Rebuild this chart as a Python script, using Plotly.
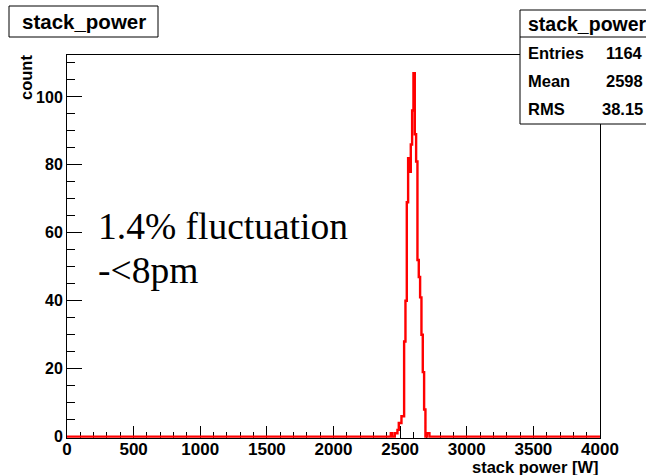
import numpy as np
import plotly.graph_objects as go

# ---- data ----
hist_title = "stack_power"
x_title = "stack power [W]"
y_title = "count"
x_min, x_max, bin_width = 0, 4000, 10
bin_low = [2430, 2460, 2470, 2480, 2490, 2500, 2510, 2520, 2530, 2540, 2550, 2560,
           2570, 2580, 2590, 2600, 2610, 2620, 2630, 2640, 2650, 2660, 2670, 2680,
           2700, 2710]
bin_count = [1, 1, 1, 2, 4, 4, 6, 6, 28, 40, 69, 82,
             78, 86, 96, 107, 89, 81, 52, 47, 41, 30, 19, 8,
             1, 1]
stat_labels = ["Entries", "Mean", "RMS"]
stat_values = ["1164", "2598", "38.15"]
note_lines = ["1.4% fluctuation", "-<8pm"]

# ---- full histogram ----
edges = np.arange(x_min, x_max + bin_width, bin_width)
counts = np.zeros(len(edges) - 1)
for lo, c in zip(bin_low, bin_count):
    counts[int((lo - x_min) // bin_width)] = c
xs = edges
ys = np.append(counts, counts[-1])
y_max = counts.max() * 1.05

# ---- layout geometry (pixels) ----
W, H = 646, 475
L, R, T, B = 67, 600, 55, 438


def xp(px):
    return (px - L) / (R - L)


def yp(py):
    return (B - py) / (B - T)


SANS = "Liberation Sans, Arial, Helvetica, sans-serif"
SERIF = "Liberation Serif, Times New Roman, serif"

fig = go.Figure()
fig.add_trace(go.Scatter(x=xs, y=ys, mode="lines", line=dict(shape="hv", color="#ff0000", width=2.4),
                         hoverinfo="skip", showlegend=False))

fig.update_xaxes(range=[x_min, x_max], dtick=500, tick0=0, ticks="inside", ticklen=12,
                 tickcolor="black", tickwidth=1, showgrid=False, zeroline=False,
                 showline=True, linecolor="black", linewidth=1, mirror=True,
                 tickfont=dict(family=SANS, size=17, color="black", weight="bold"),
                 ticklabelstandoff=-4,
                 layer="below traces",
                 minor=dict(dtick=100, ticks="inside", ticklen=6, tickcolor="black", tickwidth=1, showgrid=False))
fig.update_yaxes(range=[-0.4, y_max], dtick=20, tick0=0, ticks="inside", ticklen=15,
                 tickcolor="black", tickwidth=1, showgrid=False, zeroline=False,
                 showline=True, linecolor="black", linewidth=1, mirror=True,
                 tickfont=dict(family=SANS, size=16, color="black", weight="bold"),
                 layer="below traces",
                 minor=dict(dtick=5, ticks="inside", ticklen=8, tickcolor="black", tickwidth=1, showgrid=False))

shapes = []
annotations = []

# title box (top left)
shapes.append(dict(type="rect", xref="paper", yref="paper", x0=xp(9), x1=xp(158), y0=yp(37), y1=yp(6),
                   line=dict(color="black", width=1), fillcolor="white"))
annotations.append(dict(text=hist_title, xref="paper", yref="paper", x=xp(83.5), y=yp(21.5),
                        xanchor="center", yanchor="middle", showarrow=False,
                        font=dict(family=SANS, size=20.5, color="black", weight="bold")))

# stats box (top right)
shapes.append(dict(type="rect", xref="paper", yref="paper", x0=xp(520), x1=xp(660), y0=yp(124), y1=yp(10),
                   line=dict(color="black", width=1), fillcolor="white", layer="above"))
shapes.append(dict(type="line", xref="paper", yref="paper", x0=xp(520), x1=xp(660), y0=yp(37), y1=yp(37),
                   line=dict(color="black", width=1)))
annotations.append(dict(text=hist_title, xref="paper", yref="paper", x=xp(526), y=yp(23.5),
                        xanchor="left", yanchor="middle", showarrow=False,
                        font=dict(family=SANS, size=19.5, color="black", weight="bold")))
row_y = [53, 81, 109]
for lab, val, ry in zip(stat_labels, stat_values, row_y):
    annotations.append(dict(text=lab, xref="paper", yref="paper", x=xp(526), y=yp(ry),
                            xanchor="left", yanchor="middle", showarrow=False,
                            font=dict(family=SANS, size=16.5, color="black", weight="bold")))
    annotations.append(dict(text=val, xref="paper", yref="paper", x=xp(645), y=yp(ry),
                            xanchor="right", yanchor="middle", showarrow=False,
                            font=dict(family=SANS, size=16.5, color="black", weight="bold")))

# axis titles
annotations.append(dict(text=x_title, xref="paper", yref="paper", x=xp(601), y=yp(467),
                        xanchor="right", yanchor="middle", showarrow=False,
                        font=dict(family=SANS, size=16.5, color="black", weight="bold")))
annotations.append(dict(text=y_title, xref="paper", yref="paper", x=xp(26), y=yp(78),
                        xanchor="center", yanchor="middle", showarrow=False, textangle=-90,
                        font=dict(family=SANS, size=16.5, color="black", weight="bold")))

# free text
annotations.append(dict(text=note_lines[0], xref="paper", yref="paper", x=xp(95.5), y=yp(226),
                        xanchor="left", yanchor="middle", showarrow=False,
                        font=dict(family=SERIF, size=37.5, color="black")))
annotations.append(dict(text=note_lines[1], xref="paper", yref="paper", x=xp(95.5), y=yp(270),
                        xanchor="left", yanchor="middle", showarrow=False,
                        font=dict(family=SERIF, size=37.5, color="black")))

fig.update_layout(width=W, height=H, margin=dict(l=L, r=W - R, t=T, b=H - B, pad=0),
                  paper_bgcolor="white", plot_bgcolor="white",
                  shapes=shapes, annotations=annotations, showlegend=False)

fig.write_html("out.html", config={"displayModeBar": False},
               post_script="document.body.style.margin='0';document.body.style.overflow='hidden';")
